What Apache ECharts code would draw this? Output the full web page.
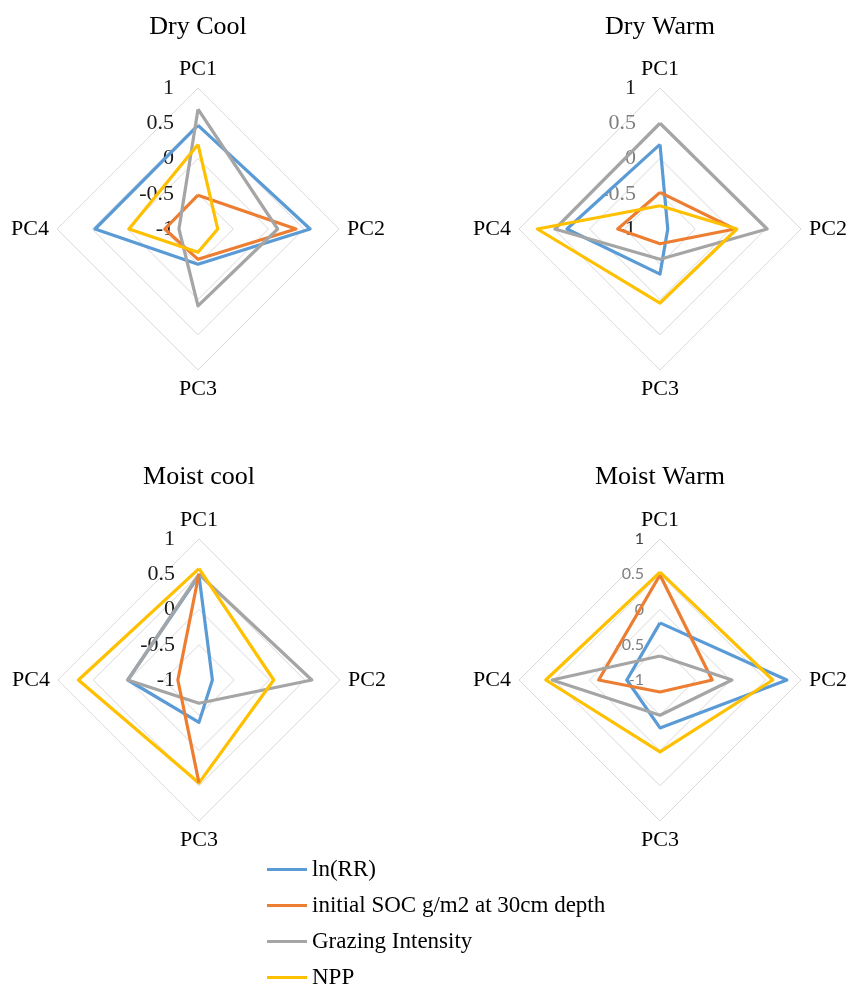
<!DOCTYPE html>
<html><head><meta charset="utf-8">
<script src="https://cdn.jsdelivr.net/npm/echarts@6/dist/echarts.min.js"></script>
<style>html,body{margin:0;padding:0;background:#fff}#c{width:848px;height:987px}</style>
</head><body><div id="c"></div>
<script>
const axes = ['PC1', 'PC2', 'PC3', 'PC4'];
const panels = ['Dry Cool', 'Dry Warm', 'Moist cool', 'Moist Warm'];
const seriesNames = ['ln(RR)', 'initial SOC g/m2 at 30cm depth', 'Grazing Intensity', 'NPP'];
const tickLabels = ['-1', '-0.5', '0', '0.5', '1'];
// values in order PC1, PC2, PC3, PC4
const dryCoolLnRR = [0.47, 0.59, -0.50, 0.46];
const dryCoolSOC = [-0.52, 0.39, -0.57, -0.53];
const dryCoolGrazing = [0.70, 0.13, 0.09, -0.73];
const dryCoolNPP = [0.20, -0.72, -0.67, -0.02];
const dryWarmLnRR = [0.20, -0.89, -0.36, 0.32];
const dryWarmSOC = [-0.48, 0.06, -0.79, -0.40];
const dryWarmGrazing = [0.50, 0.52, -0.57, 0.49];
const dryWarmNPP = [-0.67, 0.09, 0.05, 0.74];
const moistCoolLnRR = [0.48, -0.81, -0.40, 0.01];
const moistCoolSOC = [0.51, null, 0.46, -0.70];
const moistCoolGrazing = [0.50, 0.60, -0.67, 0.01];
const moistCoolNPP = [0.58, 0.06, 0.46, 0.71];
const moistWarmLnRR = [-0.19, 0.80, -0.32, -0.53];
const moistWarmSOC = [0.49, -0.26, -0.83, -0.13];
const moistWarmGrazing = [-0.66, 0.02, -0.50, 0.53];
const moistWarmNPP = [0.53, 0.60, 0.02, 0.62];

const panelData = [
  [dryCoolLnRR, dryCoolSOC, dryCoolGrazing, dryCoolNPP],
  [dryWarmLnRR, dryWarmSOC, dryWarmGrazing, dryWarmNPP],
  [moistCoolLnRR, moistCoolSOC, moistCoolGrazing, moistCoolNPP],
  [moistWarmLnRR, moistWarmSOC, moistWarmGrazing, moistWarmNPP]
];
const colors = ['#5B9BD5', '#ED7D31', '#A5A5A5', '#FFC000'];
const centers = [[198, 229], [660, 229], [199, 680], [660, 680]];
const titleY = [27, 27, 477, 477];
const R = 141;
const serif = '"Liberation Serif", "Times New Roman", serif';

// ECharts radar goes counter-clockwise: order PC1, PC4, PC3, PC2
const order = [0, 3, 2, 1];

function tickFormatter(p) {
  return function (v) {
    const s = String(v);
    if (p === 1 || p === 3) {
      return s === '1' || (p === 1 && s === '-1') ? '{d|' + s + '}' : '{g|' + s + '}';
    }
    return '{d|' + s + '}';
  };
}

const radars = [], polars = [], angleAxes = [], radiusAxes = [], series = [];
panels.forEach(function (name, p) {
  const sans = p === 3;
  radars.push({
    center: centers[p], radius: R, startAngle: 90, shape: 'polygon', splitNumber: 4,
    indicator: order.map(function (k, i) {
      const ind = { name: axes[k], min: -1, max: 1 };
      if (i > 0) ind.axisLabel = { show: false };
      return ind;
    }),
    axisName: { color: '#000', fontFamily: serif, fontSize: 22 },
    nameGap: 8,
    axisLine: { show: false },
    axisTick: { show: false },
    splitArea: { show: false },
    splitLine: { lineStyle: { color: '#d9d9d9', width: 1 } },
    axisLabel: {
      show: true, margin: sans ? 16 : 24,
      formatter: tickFormatter(p),
      rich: {
        d: { color: sans ? '#404040' : '#1a1a1a', fontFamily: sans ? 'Lato' : serif, fontSize: sans ? 16 : 22 },
        g: { color: '#7f7f7f', fontFamily: sans ? 'Lato' : serif, fontSize: sans ? 16 : 22 }
      }
    }
  });
  polars.push({ center: centers[p], radius: R });
  angleAxes.push({ polarIndex: p, type: 'value', min: 0, max: 4, startAngle: 90, clockwise: true, show: false });
  radiusAxes.push({ polarIndex: p, type: 'value', min: -1, max: 1, show: false });
  panelData[p].forEach(function (vals, s) {
    const hasGap = vals.some(function (v) { return v === null; });
    if (!hasGap) {
      series.push({
        type: 'radar', radarIndex: p, name: seriesNames[s], symbol: 'none',
        itemStyle: { color: colors[s] }, lineStyle: { color: colors[s], width: 3.2 },
        data: [{ name: seriesNames[s], value: order.map(function (k) { return vals[k]; }) }]
      });
    } else {
      const pts = vals.concat([vals[0]]).map(function (v, k) { return v === null ? [NaN, k] : [v, k]; });
      series.push({
        type: 'line', coordinateSystem: 'polar', polarIndex: p, name: seriesNames[s],
        symbol: 'none', connectNulls: false,
        itemStyle: { color: colors[s] }, lineStyle: { color: colors[s], width: 3.2 },
        data: pts
      });
    }
  });
});

const chart = echarts.init(document.getElementById('c'), null, { renderer: 'canvas' });
chart.setOption({
  backgroundColor: '#fff',
  animation: false,
  radar: radars,
  polar: polars,
  angleAxis: angleAxes,
  radiusAxis: radiusAxes,
  legend: {
    orient: 'vertical', left: 267, top: 858, height: 200, itemGap: 13, padding: 0,
    icon: 'rect', itemWidth: 40, itemHeight: 3,
    data: seriesNames,
    textStyle: { fontFamily: serif, fontSize: 23, color: '#000' }
  },
  graphic: panels.map(function (t, p) {
    return { type: 'text', x: centers[p][0], y: titleY[p],
      style: { text: t, font: '26px ' + serif, fill: '#000', textAlign: 'center', verticalAlign: 'middle' } };
  }),
  series: series
});
</script></body></html>
